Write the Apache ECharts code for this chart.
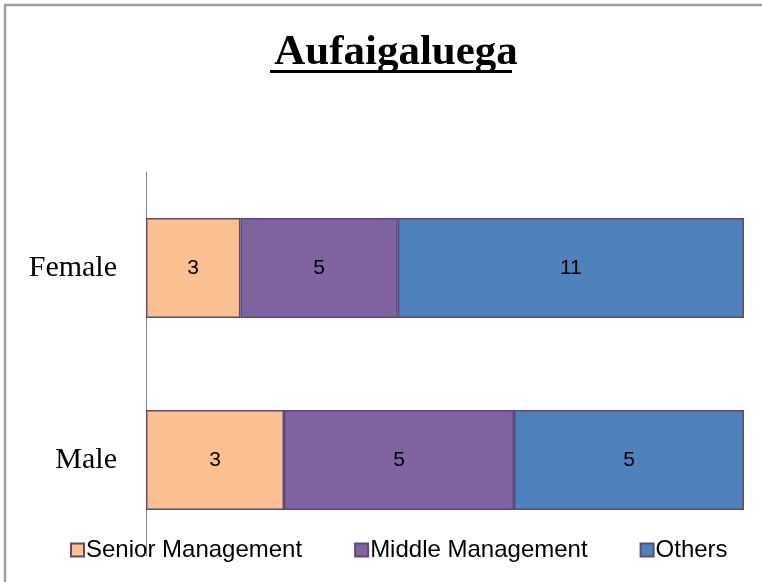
<!DOCTYPE html>
<html>
<head>
<meta charset="utf-8">
<script src="https://cdn.jsdelivr.net/npm/echarts@6/dist/echarts.min.js"></script>
<style>
  html, body { margin: 0; padding: 0; background: #fff; }
  #chart { width: 762px; height: 582px; }
</style>
</head>
<body>
<div id="chart"></div>
<script>
// categories, bottom to top as echarts draws them
const categories = ['Male', 'Female']
const seriesNames = ['Senior Management', 'Middle Management', 'Others']
const senior = [3, 3]
const middle = [5, 5]
const others = [5, 11]
const colors = ['#FAC090', '#8064A2', '#4F81BD']

const counts = [senior, middle, others]
const totals = categories.map((c, i) => senior[i] + middle[i] + others[i])

const chart = echarts.init(document.getElementById('chart'))

let option = {
  animation: false,
  title: {
    text: 'Aufaigaluega',
    left: 391,
    textAlign: 'center',
    top: 26,
    textStyle: {
      fontFamily: 'Liberation Serif',
      fontWeight: 'bold',
      fontSize: 43,
      color: '#000'
    }
  },
  legend: {
    bottom: 15,
    left: 65,
    itemWidth: 13,
    itemHeight: 13,
    itemGap: 52,
    icon: 'rect',
    textStyle: {
      fontFamily: 'Liberation Sans',
      fontSize: 24,
      color: '#000',
      padding: [0, 0, 0, -3]
    },
    data: seriesNames
  },
  grid: {
    left: 146,
    right: 18,
    top: 172,
    bottom: 26
  },
  xAxis: {
    type: 'value',
    min: 0,
    max: 100,
    show: false
  },
  yAxis: {
    type: 'category',
    data: categories,
    axisLine: { show: true, lineStyle: { color: '#868686', width: 1 } },
    axisTick: { show: false },
    axisLabel: {
      margin: 29,
      fontFamily: 'Liberation Serif',
      fontSize: 30,
      color: '#000'
    }
  },
  series: seriesNames.map((name, k) => ({
    name: name,
    type: 'bar',
    stack: 'total',
    barWidth: '52%',
    itemStyle: {
      color: colors[k],
      borderColor: '#5F497A',
      borderWidth: 1.5
    },
    label: {
      show: true,
      position: 'inside',
      fontFamily: 'Liberation Sans',
      fontSize: 21,
      color: '#000',
      formatter: p => counts[k][p.dataIndex]
    },
    data: counts[k].map((v, i) => v / totals[i] * 100)
  })),
  graphic: [
    {
      type: 'rect',
      silent: true,
      shape: { x: 5, y: 5, width: 800, height: 600 },
      style: { fill: 'none', stroke: '#A0A0A0', lineWidth: 2.5 }
    },
    {
      type: 'rect',
      silent: true,
      shape: { x: 270, y: 70, width: 242, height: 3 },
      style: { fill: '#000' }
    }
  ]
}

chart.setOption(option)
</script>
</body>
</html>
